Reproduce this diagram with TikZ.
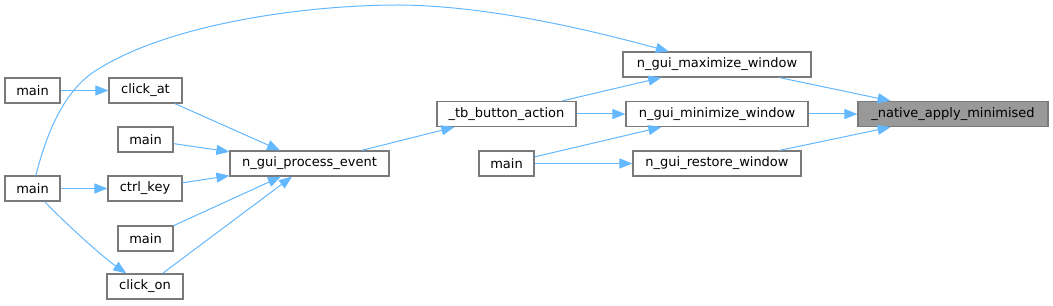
\documentclass[tikz,border=0pt]{standalone}
\usepackage{fontspec}
\setmainfont{DejaVu Sans}
\usetikzlibrary{arrows.meta,positioning}
\definecolor{edgeblue}{HTML}{63B8FF}
\definecolor{boxgray}{HTML}{7A7A7A}
\definecolor{rootgray}{HTML}{999999}

\begin{document}
\begin{tikzpicture}[
  x=0.75pt, y=-0.75pt,
  fnbox/.style={rectangle, draw=boxgray, fill=white, line width=0.9pt, inner sep=0pt, minimum height=18.75pt, font=\fontsize{9.75}{11}\selectfont},
  rootbox/.style={fnbox, fill=rootgray},
  arrow/.style={-{Triangle[length=9.75pt, width=7.5pt]}, line width=0.75pt, draw=edgeblue}
]
\useasboundingbox (0,0) rectangle (1053,306);

% callers on the left
\node[fnbox, minimum width=41.25pt] (mainA) at (32.5,90.5) {main};
\node[fnbox, minimum width=41.25pt] (mainB) at (32.5,188.5) {main};
\node[fnbox, minimum width=54.75pt] (clickat) at (145.5,90.5) {click\_at};
\node[fnbox, minimum width=41.25pt] (mainC) at (145.5,139.5) {main};
\node[fnbox, minimum width=55.5pt] (ctrlkey) at (145,188.5) {ctrl\_key};
\node[fnbox, minimum width=41.25pt] (mainD) at (145.5,238.5) {main};
\node[fnbox, minimum width=57pt] (clickon) at (145,286.5) {click\_on};
\node[fnbox, minimum width=119.25pt] (process) at (309.5,163.5) {n\_gui\_process\_event};

% middle
\node[fnbox, minimum width=104.25pt] (tbaction) at (506.5,114) {\_tb\_button\_action};
\node[fnbox, minimum width=41.25pt] (mainE) at (506.5,163.5) {main};
\node[fnbox, minimum width=141pt] (maximize) at (717,64.5) {n\_gui\_maximize\_window};
\node[fnbox, minimum width=136.5pt] (minimize) at (717,114) {n\_gui\_minimize\_window};
\node[fnbox, minimum width=126pt] (restore) at (717,163.5) {n\_gui\_restore\_window};

% root
\node[rootbox, minimum width=142.5pt] (native) at (953,114) {\_native\_apply\_minimised};

\draw[arrow] (mainA) -- (clickat);
\draw[arrow] (mainB) -- (ctrlkey);
\draw[arrow] (mainB) .. controls (60,218) and (100,255) .. (clickon);
\draw[arrow] (mainB) .. controls (50,120) and (70,85) .. (100,68)
  .. controls (170,25) and (300,5) .. (400,5)
  .. controls (490,6) and (590,30) .. (maximize);
\draw[arrow] (clickat) -- (process);
\draw[arrow] (mainC) -- (process);
\draw[arrow] (ctrlkey) -- (process);
\draw[arrow] (mainD) -- (process);
\draw[arrow] (clickon) -- (process);
\draw[arrow] (process) -- (tbaction);
\draw[arrow] (tbaction) -- (maximize);
\draw[arrow] (tbaction) -- (minimize);
\draw[arrow] (mainE) -- (minimize);
\draw[arrow] (mainE) -- (restore);
\draw[arrow] (maximize) -- (native);
\draw[arrow] (minimize) -- (native);
\draw[arrow] (restore) -- (native);
\end{tikzpicture}
\end{document}
